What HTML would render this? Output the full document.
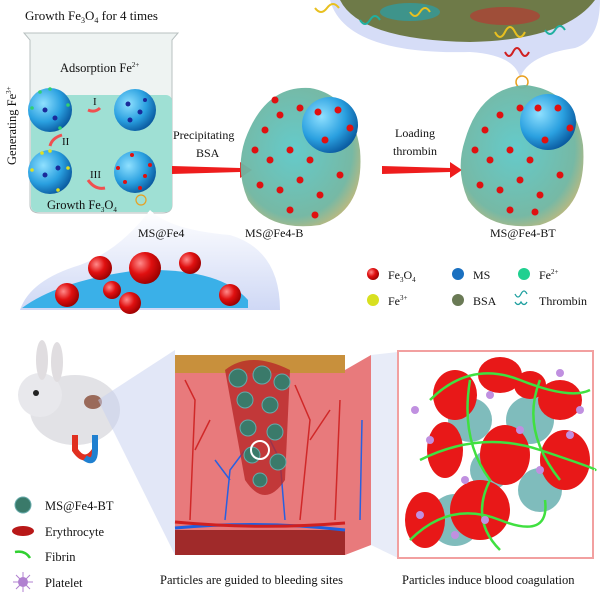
<!DOCTYPE html>
<html><head><meta charset="utf-8"><style>
body{margin:0;background:#fff}
svg{display:block}
text{font-family:"Liberation Serif",serif;fill:#111}
</style></head><body>
<svg width="600" height="600" viewBox="0 0 600 600" xmlns="http://www.w3.org/2000/svg">
<defs>
<radialGradient id="ms" cx="35%" cy="35%" r="70%"><stop offset="0" stop-color="#8fe0ff"/><stop offset="0.6" stop-color="#2aa0e0"/><stop offset="1" stop-color="#0a5aa0"/></radialGradient>
<radialGradient id="red" cx="35%" cy="35%" r="70%"><stop offset="0" stop-color="#ff8a8a"/><stop offset="0.5" stop-color="#e01010"/><stop offset="1" stop-color="#900"/></radialGradient>
<radialGradient id="bsa" cx="45%" cy="45%" r="60%"><stop offset="0" stop-color="#5cc8c8"/><stop offset="0.8" stop-color="#6fb5a0"/><stop offset="1" stop-color="#b5b57a"/></radialGradient>
<linearGradient id="cloud" x1="0" y1="0" x2="0" y2="1"><stop offset="0" stop-color="#fff"/><stop offset="1" stop-color="#cfd8f5"/></linearGradient>
</defs>

<!-- top zoom band -->
<path d="M330 0 Q345 55 470 52 Q515 55 520 78 Q528 55 575 48 Q600 40 600 0 Z" fill="#d6ddf7"/>
<path d="M340 0 Q360 40 470 42 Q565 40 595 0 Z" fill="#6e7a48"/>
<ellipse cx="410" cy="12" rx="30" ry="9" fill="#2aa0a8" opacity="0.7"/>
<ellipse cx="505" cy="16" rx="35" ry="9" fill="#c03030" opacity="0.6"/>
<path d="M315 8 q6 8 12 0 q6 -8 12 0 M410 12 q5 8 10 0 q5 -8 10 0 M495 32 q5 10 10 0 q5 -10 10 0 q5 10 10 0" stroke="#e8c020" stroke-width="2" fill="none"/>
<path d="M360 20 q5 8 10 0 q5 -8 10 0 M545 30 q5 8 10 0 q5 -8 10 0" stroke="#20b0a0" stroke-width="2" fill="none"/>
<path d="M505 52 q4 8 8 0 q4 -8 8 0 q4 8 8 0" stroke="#d02020" stroke-width="2" fill="none"/>
<circle cx="522" cy="82" r="6" fill="none" stroke="#e8a020" stroke-width="1.5"/>

<!-- title & beaker -->
<text x="25" y="20" font-size="13">Growth  Fe<tspan font-size="8" dy="3">3</tspan><tspan dy="-3">O</tspan><tspan font-size="8" dy="3">4</tspan><tspan dy="-3"> for 4 times</tspan></text>
<path d="M24 33 L178 33 L172 40 L172 205 Q172 213 162 213 L40 213 Q30 213 30 205 L30 40 Z" fill="#eef3f2" stroke="#b8c0c0"/>
<rect x="31" y="95" width="141" height="117" rx="6" fill="#9fe0d4"/>
<text x="60" y="72" font-size="12.5">Adsorption Fe<tspan font-size="7" dy="-5">2+</tspan></text>
<text transform="translate(16 165) rotate(-90)" font-size="12.5">Generating Fe<tspan font-size="7" dy="-5">3+</tspan></text>
<circle cx="50" cy="110" r="22" fill="url(#ms)"/>
<circle cx="135" cy="110" r="21" fill="url(#ms)"/>
<circle cx="50" cy="172" r="22" fill="url(#ms)"/>
<circle cx="135" cy="172" r="21" fill="url(#ms)"/>
<g fill="#1a2a9a"><circle cx="128" cy="104" r="2.5"/><circle cx="140" cy="112" r="2.5"/><circle cx="130" cy="120" r="2.5"/><circle cx="145" cy="100" r="2"/><circle cx="45" cy="110" r="2.5"/><circle cx="55" cy="118" r="2.5"/><circle cx="45" cy="175" r="2.5"/><circle cx="58" cy="168" r="2.5"/></g>
<g fill="#30d070"><circle cx="32" cy="108" r="1.8"/><circle cx="68" cy="105" r="1.8"/><circle cx="40" cy="92" r="1.8"/><circle cx="60" cy="128" r="1.8"/><circle cx="50" cy="89" r="1.8"/></g>
<g fill="#e0e020"><circle cx="32" cy="170" r="1.8"/><circle cx="68" cy="168" r="1.8"/><circle cx="42" cy="153" r="1.8"/><circle cx="58" cy="190" r="1.8"/><circle cx="50" cy="151" r="1.8"/></g>
<g fill="#e01010"><circle cx="118" cy="168" r="2"/><circle cx="150" cy="165" r="2"/><circle cx="132" cy="155" r="2"/><circle cx="140" cy="188" r="2"/><circle cx="125" cy="182" r="2"/><circle cx="145" cy="176" r="2"/></g>
<text x="93" y="105" font-size="11">I</text><text x="62" y="145" font-size="11">II</text><text x="90" y="178" font-size="11">III</text>
<path d="M100 108 Q95 113 88 110" stroke="#f05050" stroke-width="3" fill="none"/>
<path d="M62 135 Q52 138 50 146" stroke="#f05050" stroke-width="3" fill="none"/>
<path d="M88 180 Q95 190 105 188" stroke="#f05050" stroke-width="3" fill="none"/>
<circle cx="141" cy="200" r="5" fill="none" stroke="#e8a020" stroke-width="1.2"/>
<text x="47" y="209" font-size="12.5">Growth  Fe<tspan font-size="7" dy="3">3</tspan><tspan dy="-3">O</tspan><tspan font-size="7" dy="3">4</tspan></text>

<!-- bottom-left zoom cloud -->
<path d="M150 210 Q170 230 230 235 Q280 250 280 310 L20 310 Q30 280 80 265 Q120 250 150 210 Z" fill="url(#cloud)"/>
<path d="M22 308 Q60 280 140 270 Q220 268 248 300 L248 308 Z" fill="#3ab0e8"/>
<g fill="url(#red)"><circle cx="67" cy="295" r="12"/><circle cx="100" cy="268" r="12"/><circle cx="145" cy="268" r="16"/><circle cx="190" cy="263" r="11"/><circle cx="230" cy="295" r="11"/><circle cx="130" cy="303" r="11"/><circle cx="112" cy="290" r="9"/></g>
<text x="138" y="237" font-size="12">MS@Fe4</text>

<!-- arrows -->
<text x="173" y="139" font-size="12">Precipitating</text><text x="196" y="157" font-size="12">BSA</text>
<path d="M172 166 L240 168 L240 162 L252 170 L240 178 L240 172 L172 174 Z" fill="#ee1d1d"/>
<text x="395" y="137" font-size="12">Loading</text><text x="393" y="155" font-size="12">thrombin</text>
<path d="M382 166 L450 168 L450 162 L462 170 L450 178 L450 172 L382 174 Z" fill="#ee1d1d"/>

<!-- MS@Fe4-B -->
<path d="M245 140 Q265 85 310 88 Q352 95 360 150 Q365 210 320 225 Q270 232 248 200 Q235 170 245 140 Z" fill="url(#bsa)" opacity="0.95"/>
<circle cx="330" cy="125" r="28" fill="url(#ms)"/>
<g fill="#e01010"><circle cx="265" cy="130" r="3.5"/><circle cx="280" cy="115" r="3.5"/><circle cx="300" cy="108" r="3.5"/><circle cx="318" cy="112" r="3.5"/><circle cx="338" cy="110" r="3.5"/><circle cx="350" cy="128" r="3.5"/><circle cx="325" cy="140" r="3.5"/><circle cx="270" cy="160" r="3.5"/><circle cx="290" cy="150" r="3.5"/><circle cx="310" cy="160" r="3.5"/><circle cx="260" cy="185" r="3.5"/><circle cx="280" cy="190" r="3.5"/><circle cx="300" cy="180" r="3.5"/><circle cx="320" cy="195" r="3.5"/><circle cx="340" cy="175" r="3.5"/><circle cx="290" cy="210" r="3.5"/><circle cx="315" cy="215" r="3.5"/><circle cx="275" cy="100" r="3.5"/><circle cx="255" cy="150" r="3.5"/></g>
<text x="245" y="237" font-size="12">MS@Fe4-B</text>

<!-- MS@Fe4-BT -->
<path d="M465 140 Q480 88 525 85 Q575 90 583 145 Q588 210 540 225 Q490 232 468 200 Q455 170 465 140 Z" fill="url(#bsa)" opacity="0.95"/>
<circle cx="548" cy="122" r="28" fill="url(#ms)"/>
<g fill="#e01010"><circle cx="485" cy="130" r="3.5"/><circle cx="500" cy="115" r="3.5"/><circle cx="520" cy="108" r="3.5"/><circle cx="538" cy="108" r="3.5"/><circle cx="558" cy="108" r="3.5"/><circle cx="570" cy="128" r="3.5"/><circle cx="545" cy="140" r="3.5"/><circle cx="490" cy="160" r="3.5"/><circle cx="510" cy="150" r="3.5"/><circle cx="530" cy="160" r="3.5"/><circle cx="480" cy="185" r="3.5"/><circle cx="500" cy="190" r="3.5"/><circle cx="520" cy="180" r="3.5"/><circle cx="540" cy="195" r="3.5"/><circle cx="560" cy="175" r="3.5"/><circle cx="510" cy="210" r="3.5"/><circle cx="535" cy="212" r="3.5"/><circle cx="475" cy="150" r="3.5"/></g>
<text x="490" y="237" font-size="12">MS@Fe4-BT</text>

<!-- legend top -->
<circle cx="373" cy="274" r="6" fill="url(#red)"/><text x="388" y="279" font-size="12">Fe<tspan font-size="7" dy="3">3</tspan><tspan dy="-3">O</tspan><tspan font-size="7" dy="3">4</tspan></text>
<circle cx="458" cy="274" r="6" fill="#1a70c0"/><text x="473" y="279" font-size="12">MS</text>
<circle cx="524" cy="274" r="6" fill="#20d090"/><text x="539" y="279" font-size="12">Fe<tspan font-size="7" dy="-5">2+</tspan></text>
<circle cx="373" cy="300" r="6" fill="#d8e020"/><text x="388" y="305" font-size="12">Fe<tspan font-size="7" dy="-5">3+</tspan></text>
<circle cx="458" cy="300" r="6" fill="#6a7a55"/><text x="473" y="305" font-size="12">BSA</text>
<path d="M515 294 q3 6 6 0 q3 -6 6 0 M515 302 q3 5 6 0 q3 5 6 0" stroke="#20a0a0" stroke-width="1.3" fill="none"/>
<text x="539" y="305" font-size="12">Thrombin</text>

<!-- rabbit -->
<ellipse cx="75" cy="410" rx="45" ry="35" fill="#e2e2e6"/>
<circle cx="40" cy="395" r="22" fill="#e8e8ec"/>
<ellipse cx="42" cy="360" rx="6" ry="20" fill="#e0dde0"/>
<ellipse cx="57" cy="362" rx="6" ry="20" fill="#e0dde0"/>
<circle cx="36" cy="393" r="3" fill="#222"/>
<ellipse cx="93" cy="402" rx="9" ry="7" fill="#9a6a5a"/>
<path d="M75 435 L75 450 Q85 465 95 450 L95 435" stroke="#e03020" stroke-width="6" fill="none"/>
<path d="M85 458 Q95 465 95 450 L95 435" stroke="#2080d0" stroke-width="6" fill="none"/>
<path d="M98 400 L175 350 L175 555 Z" fill="#c6d0f0" opacity="0.5"/>

<!-- skin block -->
<path d="M175 370 L345 370 L371 355 L371 545 L345 555 L175 555 Z" fill="#e87a7c"/>
<rect x="175" y="355" width="170" height="18" fill="#c8903c"/>
<rect x="175" y="530" width="170" height="25" fill="#a02a2a"/>
<path d="M175 528 Q260 520 345 530" stroke="#2060e0" stroke-width="3" fill="none"/>
<path d="M175 522 Q260 530 345 523" stroke="#d02020" stroke-width="3" fill="none"/>
<g stroke="#d02828" stroke-width="1.5" fill="none"><path d="M190 520 L195 400 L185 380 M195 450 L210 420 M300 520 L310 420 L295 385 M310 440 L330 410 M335 520 L340 400"/></g>
<g stroke="#2860e0" stroke-width="1.5" fill="none"><path d="M225 520 L230 470 L245 450 M230 480 L215 460 M285 520 L280 460 L270 440 M360 520 L362 420"/></g>
<path d="M225 370 Q250 350 290 370 L285 480 Q265 510 245 480 Z" fill="#b82828" opacity="0.8"/>
<g fill="#3a7a6a" stroke="#6aa" stroke-width="1">
<circle cx="238" cy="378" r="9"/><circle cx="262" cy="375" r="9"/><circle cx="282" cy="382" r="8"/><circle cx="245" cy="400" r="8"/><circle cx="270" cy="405" r="8"/><circle cx="248" cy="428" r="8"/><circle cx="275" cy="432" r="8"/><circle cx="252" cy="455" r="8"/><circle cx="278" cy="462" r="8"/><circle cx="260" cy="480" r="7"/>
</g>
<circle cx="260" cy="450" r="9" fill="none" stroke="#fff" stroke-width="2"/>
<path d="M371 355 L398 352 L398 558 L371 545 Z" fill="#e8ecf8"/>

<!-- red box -->
<rect x="398" y="351" width="195" height="207" fill="none" stroke="#f2a0a0" stroke-width="2"/>
<g fill="#4aa0a0" opacity="0.7"><circle cx="470" cy="420" r="22"/><circle cx="530" cy="420" r="24"/><circle cx="455" cy="520" r="26"/><circle cx="540" cy="490" r="22"/><circle cx="490" cy="470" r="20"/></g>
<g fill="#e81818"><ellipse cx="455" cy="395" rx="22" ry="25"/><ellipse cx="500" cy="375" rx="22" ry="18"/><ellipse cx="560" cy="400" rx="22" ry="20"/><ellipse cx="445" cy="450" rx="18" ry="28"/><ellipse cx="505" cy="455" rx="25" ry="30"/><ellipse cx="565" cy="460" rx="25" ry="30"/><ellipse cx="425" cy="520" rx="20" ry="28"/><ellipse cx="480" cy="510" rx="30" ry="30"/><ellipse cx="530" cy="385" rx="16" ry="14"/></g>
<g stroke="#40e040" stroke-width="2.5" fill="none"><path d="M430 400 Q470 360 520 380 T590 390 M420 460 Q480 430 540 450 T595 470 M410 540 Q450 500 500 520 T545 500 M470 380 Q460 440 490 480 Q470 520 500 550 M540 380 Q520 430 560 480"/></g>
<g fill="#c090e0"><circle cx="430" cy="440" r="4"/><circle cx="490" cy="395" r="4"/><circle cx="520" cy="430" r="4"/><circle cx="570" cy="435" r="4"/><circle cx="560" cy="373" r="4"/><circle cx="465" cy="480" r="4"/><circle cx="485" cy="520" r="4"/><circle cx="420" cy="515" r="4"/><circle cx="455" cy="535" r="4"/><circle cx="540" cy="470" r="4"/><circle cx="580" cy="410" r="4"/><circle cx="415" cy="410" r="4"/></g>

<!-- bottom legend -->
<circle cx="23" cy="505" r="8" fill="#3a7a6a" stroke="#6aa"/><text x="45" y="510" font-size="12.5">MS@Fe4-BT</text>
<ellipse cx="23" cy="531" rx="11" ry="5" fill="#b81818"/><text x="45" y="536" font-size="12.5">Erythrocyte</text>
<path d="M15 552 Q25 550 30 558" stroke="#30d030" stroke-width="2.5" fill="none"/><text x="45" y="561" font-size="12.5">Fibrin</text>
<circle cx="23" cy="582" r="5" fill="#b080d0"/><path d="M13 582 L33 582 M23 572 L23 592 M16 575 L30 589 M30 575 L16 589" stroke="#b080d0"/><text x="45" y="587" font-size="12.5">Platelet</text>
<text x="160" y="584" font-size="12.5">Particles are guided to bleeding sites</text>
<text x="402" y="584" font-size="12.5">Particles induce blood coagulation</text>
</svg>
</body></html>
